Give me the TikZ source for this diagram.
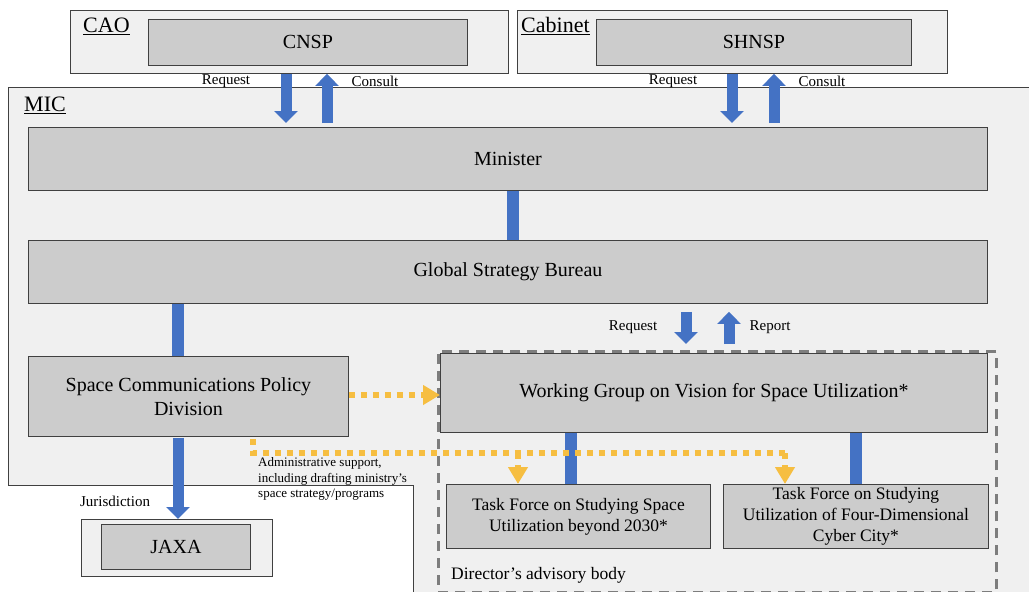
\documentclass[tikz,border=0pt]{standalone}
\usepackage{fontspec}
\setmainfont{Liberation Serif}
\usetikzlibrary{arrows.meta,calc}
\definecolor{boxgray}{RGB}{204,204,204}
\definecolor{bggray}{RGB}{240,240,240}
\definecolor{arrowblue}{RGB}{68,114,196}
\definecolor{dotyellow}{RGB}{246,190,65}
\definecolor{dashgray}{RGB}{125,125,125}
\begin{document}
\begin{tikzpicture}[x=1pt,y=-1pt,
  box/.style={draw=black!75, fill=boxgray, line width=0.9pt, inner sep=0pt, anchor=north west, align=center, font=\fontsize{20}{23.5}\selectfont},
  tfbox/.style={box, font=\fontsize{17.5}{21}\selectfont},
  outer/.style={draw=black!75, fill=bggray, line width=0.9pt, inner sep=0pt, anchor=north west},
  bluearrow/.style={draw=arrowblue, line width=11pt, -{Triangle[width=23pt,length=12pt]}},
  bluebar/.style={draw=arrowblue, line width=12pt},
  ydot/.style={draw=dotyellow, line width=6pt, dash pattern=on 6pt off 6pt},
  yarrow/.style={ydot, -{Triangle[width=19pt,length=17pt]}},
  grplbl/.style={font=\fontsize{22}{24}\selectfont, anchor=west, inner sep=0pt},
  small/.style={font=\fontsize{15}{17}\selectfont, inner sep=0pt},
  tiny/.style={font=\fontsize{13}{15.5}\selectfont, inner sep=0pt, align=left, anchor=west},
]
\useasboundingbox (0,0) rectangle (1029,592);
% MIC area
\draw[draw=black!75, fill=bggray, line width=0.9pt] (8,87) -- (1040,87) -- (1040,600) -- (413,600) -- (413,485) -- (8,485) -- cycle;
\node[grplbl] (miclbl) at (24,105) {\underline{MIC}};
% CAO and Cabinet
\node[outer, minimum width=438pt, minimum height=63pt] (cao) at (70,10) {};
\node[grplbl] (caolbl) at (83,26) {\underline{CAO}};
\node[box, minimum width=319pt, minimum height=46pt] (cnsp) at (148,19) {CNSP};
\node[outer, minimum width=430pt, minimum height=63pt] (cab) at (517,10) {};
\node[grplbl] (cablbl) at (521,26) {\underline{Cabinet}};
\node[box, minimum width=315pt, minimum height=46pt] (shnsp) at (596,19) {SHNSP};
% main boxes
\node[box, minimum width=959pt, minimum height=63pt] (minister) at (28,127) {Minister};
\node[box, minimum width=959pt, minimum height=63pt] (gsb) at (28,240) {Global Strategy Bureau};
\node[box, minimum width=320pt, minimum height=80pt] (scpd) at (28,356) {Space Communications Policy\\Division};
% advisory body
\node[draw=dashgray, line width=2.5pt, dash pattern=on 10pt off 7pt, inner sep=0pt, anchor=north west, minimum width=558pt, minimum height=241pt] (adv) at (437,350) {};
\node[box, minimum width=547pt, minimum height=79pt] (wg) at (440,353) {Working Group on Vision for Space Utilization*};
\node[tfbox, minimum width=264pt, minimum height=64pt] (tf1) at (446,484) {Task Force on Studying Space\\Utilization beyond 2030*};
\node[tfbox, minimum width=265pt, minimum height=64pt] (tf2) at (723,484) {Task Force on Studying\\Utilization of Four-Dimensional\\Cyber City*};
\node[font=\fontsize{17.5}{20}\selectfont, anchor=west, inner sep=0pt] (advlbl) at (451,575) {Director’s advisory body};
% JAXA
\node[outer, minimum width=191pt, minimum height=57pt] (jaxaout) at (81,519) {};
\node[box, minimum width=149pt, minimum height=45pt] (jaxa) at (101,524) {JAXA};
% blue arrows top
\draw[bluearrow] (cao.south -| 286,0) -- ([yshift=4pt]minister.north -| 286,0);
\draw[bluearrow] ([yshift=4pt]minister.north -| 327,0) -- (cao.south -| 327,0);
\draw[bluearrow] (cab.south -| 732,0) -- ([yshift=4pt]minister.north -| 732,0);
\draw[bluearrow] ([yshift=4pt]minister.north -| 774,0) -- (cab.south -| 774,0);
\node[small] (req1) at (226,81) {Request};
\node[small] (con1) at (375,81) {Consult};
\node[small] (req2) at (673,81) {Request};
\node[small] (con2) at (822,81) {Consult};
% bars
\draw[bluebar] (minister.south -| 513,0) -- (gsb.north -| 513,0);
\draw[bluebar] (gsb.south -| 178,0) -- (scpd.north -| 178,0);
\draw[bluebar] (wg.south -| 571,0) -- (tf1.north -| 571,0);
\draw[bluebar] (wg.south -| 856,0) -- (tf2.north -| 856,0);
% request / report
\draw[bluearrow] ([yshift=-8pt]gsb.south -| 686,0) -- ([yshift=6pt]adv.north -| 686,0);
\draw[bluearrow] ([yshift=6pt]adv.north -| 729,0) -- ([yshift=-8pt]gsb.south -| 729,0);
\node[small] (req3) at (633,327) {Request};
\node[small] (rep3) at (770,327) {Report};
% jurisdiction
\draw[bluearrow] ([yshift=-1pt]scpd.south -| 178,0) -- (jaxaout.north -| 178,0);
\node[small] (jur) at (115,501) {Jurisdiction};
% yellow dotted
\draw[yarrow] (scpd.east |- 0,395) -- (wg.west |- 0,395);
\coordinate (ystart) at (scpd.south -| 253,0);
\coordinate (yend) at (789,453);
\draw[ydot] ([yshift=-2pt]ystart) -- (ystart |- yend) -- (yend);
\draw[yarrow] (518,453) -- (tf1.north -| 518,0);
\draw[yarrow] (785,453) -- (tf2.north -| 785,0);
\node[tiny] (admin) at (258,479) {Administrative support,\\including drafting ministry’s\\space strategy/programs};
\end{tikzpicture}
\end{document}
